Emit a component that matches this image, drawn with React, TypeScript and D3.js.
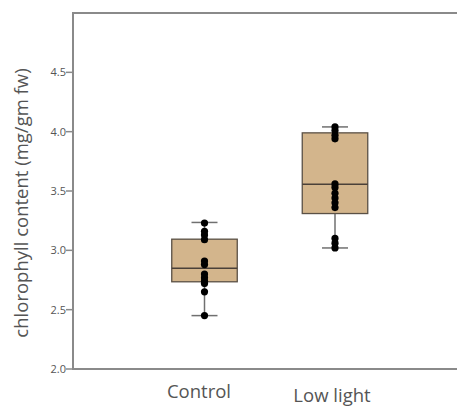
import React from "react";
import * as d3 from "d3";

const categories = ["Control", "Low light"];
const points: number[][] = [
  [3.23, 3.16, 3.13, 3.09, 2.91, 2.88, 2.8, 2.77, 2.74, 2.72, 2.65, 2.45],
  [4.04, 4.01, 3.97, 3.94, 3.56, 3.53, 3.48, 3.44, 3.4, 3.36, 3.1, 3.06, 3.02],
];
const whiskerLow = [2.45, 3.02];
const q1 = [2.735, 3.31];
const median = [2.848, 3.557];
const q3 = [3.094, 3.99];
const whiskerHigh = [3.235, 4.04];
const yTicks = [2.0, 2.5, 3.0, 3.5, 4.0, 4.5];

const W = 457;
const H = 409;
const left = 73;
const top = 13;
const bottom = 369;

export default function App() {
  const y = d3.scaleLinear().domain([2, 5]).range([bottom, top]);
  const x = d3.scaleLinear().domain([0, 1]).range([204.5, 335]);
  const boxW = 65.5;
  const capW = 26;
  const font = "'Open Sans', 'DejaVu Sans', sans-serif";

  return (
    <div style={{ position: "absolute", left: 0, top: 0 }}>
      <svg width={W} height={H} style={{ display: "block" }}>
        <rect width={W} height={H} fill="#fff" />
        <line x1={left} x2={W} y1={top} y2={top} stroke="#8a8a8a" strokeWidth={2} />
        <line x1={left} x2={W} y1={bottom} y2={bottom} stroke="#8a8a8a" strokeWidth={2} />
        <line x1={left} x2={left} y1={top - 1} y2={bottom + 1} stroke="#8a8a8a" strokeWidth={2} />
        {yTicks.map((t) => (
          <g key={t}>
            <line x1={left - 7} x2={left} y1={y(t)} y2={y(t)} stroke="#8a8a8a" strokeWidth={1.5} />
            <text
              x={left - 7}
              y={y(t)}
              dy="0.35em"
              textAnchor="end"
              fontFamily={font}
              fontSize={11}
              fill="#555"
            >
              {t.toFixed(1)}
            </text>
          </g>
        ))}
        <text
          transform={`translate(28,203) rotate(-90)`}
          textAnchor="middle"
          fontFamily={font}
          fontSize={18.5}
          fill="#555"
        >
          chlorophyll content (mg/gm fw)
        </text>
        {categories.map((c, i) => {
          const cx = x(i);
          return (
            <g key={c}>
              <line x1={cx} x2={cx} y1={y(whiskerHigh[i])} y2={y(whiskerLow[i])} stroke="#707070" strokeWidth={1.5} />
              <line x1={cx - capW / 2} x2={cx + capW / 2} y1={y(whiskerHigh[i])} y2={y(whiskerHigh[i])} stroke="#707070" strokeWidth={1.5} />
              <line x1={cx - capW / 2} x2={cx + capW / 2} y1={y(whiskerLow[i])} y2={y(whiskerLow[i])} stroke="#707070" strokeWidth={1.5} />
              <rect
                x={cx - boxW / 2}
                y={y(q3[i])}
                width={boxW}
                height={y(q1[i]) - y(q3[i])}
                fill="#d3b58c"
                stroke="#5a5045"
                strokeWidth={1.3}
              />
              <line x1={cx - boxW / 2} x2={cx + boxW / 2} y1={y(median[i])} y2={y(median[i])} stroke="#4a4038" strokeWidth={1.5} />
              {points[i].map((v, j) => (
                <circle key={j} cx={cx} cy={y(v)} r={3.6} fill="#000" />
              ))}
              <text
                x={i === 0 ? 199 : 332}
                y={i === 0 ? 398 : 402}
                textAnchor="middle"
                fontFamily={font}
                fontSize={18.5}
                fill="#555"
              >
                {c}
              </text>
            </g>
          );
        })}
      </svg>
    </div>
  );
}
